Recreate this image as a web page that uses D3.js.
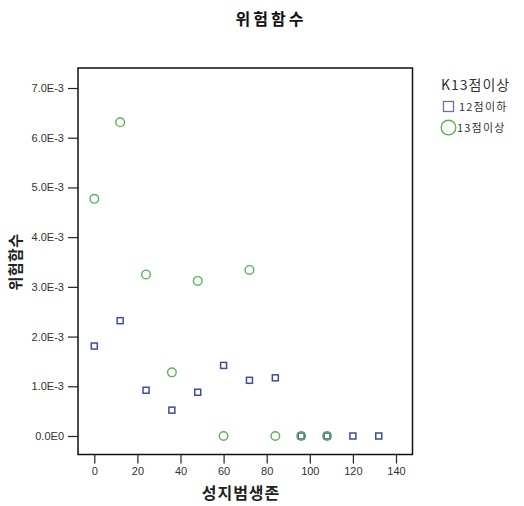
<!DOCTYPE html>
<html><head><meta charset="utf-8">
<script src="https://cdn.jsdelivr.net/npm/d3@7"></script>
<style>body{margin:0;background:#fff}</style>
</head><body>
<div id="chart"></div>
<script>
const months = [0, 12, 24, 36, 48, 60, 72, 84, 96, 108, 120, 132];
const low = [0.00181, 0.00232, 0.00092, 0.00052, 0.00088, 0.00142, 0.00112, 0.00117, 0, 0, 0, 0];
const highMonths = [0, 12, 24, 36, 48, 60, 72, 84, 96, 108];
const high = [0.00477, 0.00631, 0.00325, 0.00128, 0.00312, 0, 0.00334, 0, 0, 0];
const yTicks = [0, 0.001, 0.002, 0.003, 0.004, 0.005, 0.006, 0.007];
const yTickLabels = ["0.0E0", "1.0E-3", "2.0E-3", "3.0E-3", "4.0E-3", "5.0E-3", "6.0E-3", "7.0E-3"];
const xTicks = [0, 20, 40, 60, 80, 100, 120, 140];
const seriesNames = ["12점이하", "13점이상"];

const W = 524, H = 506;
const svg = d3.select("#chart").append("svg").attr("width", W).attr("height", H);
const frame = {l: 78, r: 412.5, t: 68, b: 454.5};
const x = d3.scaleLinear().domain([0, 140]).range([94.3, 396]);
const y = d3.scaleLinear().domain([0, 0.007]).range([436, 88]);
const blue = "#3e4c9e", green = "#58b45a";
const kr = "'Noto Sans CJK KR', sans-serif";
const lat = "'Liberation Sans', Arial, sans-serif";

svg.append("text").attr("x", 271).attr("y", 25).attr("text-anchor", "middle")
  .attr("font-family", kr).attr("font-weight", "bold").attr("font-size", 16).attr("letter-spacing", 3)
  .attr("fill", "#111").text("위험함수");

svg.append("rect").attr("x", frame.l).attr("y", frame.t).attr("width", frame.r - frame.l).attr("height", frame.b - frame.t)
  .attr("fill", "none").attr("stroke", "#111").attr("stroke-width", 1.5);

const yAxis = svg.append("g").attr("transform", `translate(${frame.l},0)`)
  .call(d3.axisLeft(y).tickValues(yTicks).tickFormat((d, i) => yTickLabels[i]).tickSize(10).tickPadding(4));
const xAxis = svg.append("g").attr("transform", `translate(0,${frame.b})`)
  .call(d3.axisBottom(x).tickValues(xTicks).tickSize(9).tickPadding(4));
[yAxis, xAxis].forEach(a => {
  a.select(".domain").remove();
  a.selectAll("line").attr("stroke", "#222").attr("stroke-width", 1.2);
  a.selectAll("text").attr("font-family", lat).attr("font-size", 11).attr("fill", "#333");
});

svg.append("text").attr("x", 241).attr("y", 499).attr("text-anchor", "middle")
  .attr("font-family", kr).attr("font-weight", "bold").attr("font-size", 16).attr("letter-spacing", 1)
  .attr("fill", "#222").text("성지범생존");
svg.append("text").attr("transform", "translate(21,262) rotate(-90)").attr("text-anchor", "middle")
  .attr("font-family", kr).attr("font-weight", "bold").attr("font-size", 15).attr("letter-spacing", 0.5)
  .attr("fill", "#222").text("위험함수");

svg.append("g").selectAll("rect").data(months).join("rect")
  .attr("x", (d) => x(d) - 3).attr("y", (d, i) => y(low[i]) - 3).attr("width", 6).attr("height", 6)
  .attr("fill", "none").attr("stroke", blue).attr("stroke-width", 1.5);
svg.append("g").selectAll("circle").data(highMonths).join("circle")
  .attr("cx", d => x(d)).attr("cy", (d, i) => y(high[i])).attr("r", 4.3)
  .attr("fill", "none").attr("stroke", green).attr("stroke-width", 1.4);

// legend
svg.append("text").attr("x", 441).attr("y", 90).attr("font-family", kr).attr("font-size", 14).attr("letter-spacing", 1)
  .attr("fill", "#333").text("K13점이상");
svg.append("rect").attr("x", 443.5).attr("y", 101.5).attr("width", 10).attr("height", 10)
  .attr("fill", "none").attr("stroke", "#6a70b2").attr("stroke-width", 1.3);
svg.append("text").attr("x", 459).attr("y", 111).attr("font-family", kr).attr("font-size", 11).attr("letter-spacing", 1.2)
  .attr("fill", "#333").text(seriesNames[0]);
svg.append("circle").attr("cx", 448.5).attr("cy", 127.5).attr("r", 7.3)
  .attr("fill", "none").attr("stroke", green).attr("stroke-width", 1.4);
svg.append("text").attr("x", 457).attr("y", 132).attr("font-family", kr).attr("font-size", 11).attr("letter-spacing", 1.2)
  .attr("fill", "#333").text(seriesNames[1]);
</script>
</body></html>
